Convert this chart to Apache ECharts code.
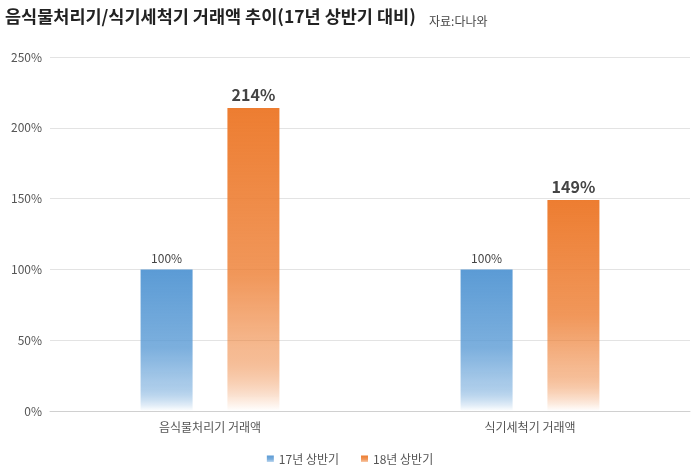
<!DOCTYPE html>
<html><head><meta charset="utf-8">
<script src="https://cdn.jsdelivr.net/npm/echarts@6/dist/echarts.min.js"></script>
<style>html,body{margin:0;padding:0;background:#fff}#c{width:700px;height:476px}</style>
</head><body><div id="c"></div>
<script>
const categories = ['음식물처리기 거래액', '식기세척기 거래액'];
const seriesNames = ['17년 상반기', '18년 상반기'];
const values17 = [100, 100];
const values18 = [214, 149];
const yTicks = [0, 50, 100, 150, 200, 250];

function grad(c){
  return new echarts.graphic.LinearGradient(0,0,0,1,[
    {offset:0,color:c},{offset:0.55,color:c+'cc'},{offset:0.8,color:c+'88'},{offset:1,color:'#ffffff'}]);
}
const font = '"Noto Sans CJK KR", "Noto Sans", sans-serif';
const chart = echarts.init(document.getElementById('c'));
chart.setOption({
  color:['#5b9bd5','#ed7d31'],
  textStyle:{fontFamily:font},
  title:[{text:'음식물처리기/식기세척기 거래액 추이(17년 상반기 대비)', left:0, top:3,
    textStyle:{fontSize:17.5,fontWeight:'bold',color:'#222',fontFamily:font}},
    {text:'자료:다나와', left:424, top:10, textStyle:{fontSize:12,fontWeight:'normal',color:'#444',fontFamily:font}}],
  legend:{bottom:6, left:'center', itemWidth:7, itemHeight:7, icon:'rect', itemGap:22,
    textStyle:{fontSize:12,color:'#555'}, data:seriesNames},
  grid:{left:50, right:10, top:57, bottom:65},
  xAxis:{type:'category', data:categories, axisTick:{show:false},
    axisLine:{lineStyle:{color:'#d0d0d0'}}, axisLabel:{fontSize:12,color:'#555',margin:10}},
  yAxis:{type:'value', min:0, max:250, interval:50,
    axisLabel:{formatter:v=>v+'%', fontSize:12, color:'#555'},
    splitLine:{lineStyle:{color:'#e3e3e3'}}},
  series:[
    {name:seriesNames[0], type:'bar', data:values17, barWidth:52, barGap:'67%',
      itemStyle:{color:grad('#5b9bd5')},
      label:{show:true, position:'top', formatter:'{c}%', fontSize:12, color:'#444'}},
    {name:seriesNames[1], type:'bar', data:values18, barWidth:52,
      itemStyle:{color:grad('#ed7d31')},
      label:{show:true, position:'top', formatter:'{c}%', fontSize:16, fontWeight:'bold', color:'#444'}}
  ]
});
</script></body></html>
